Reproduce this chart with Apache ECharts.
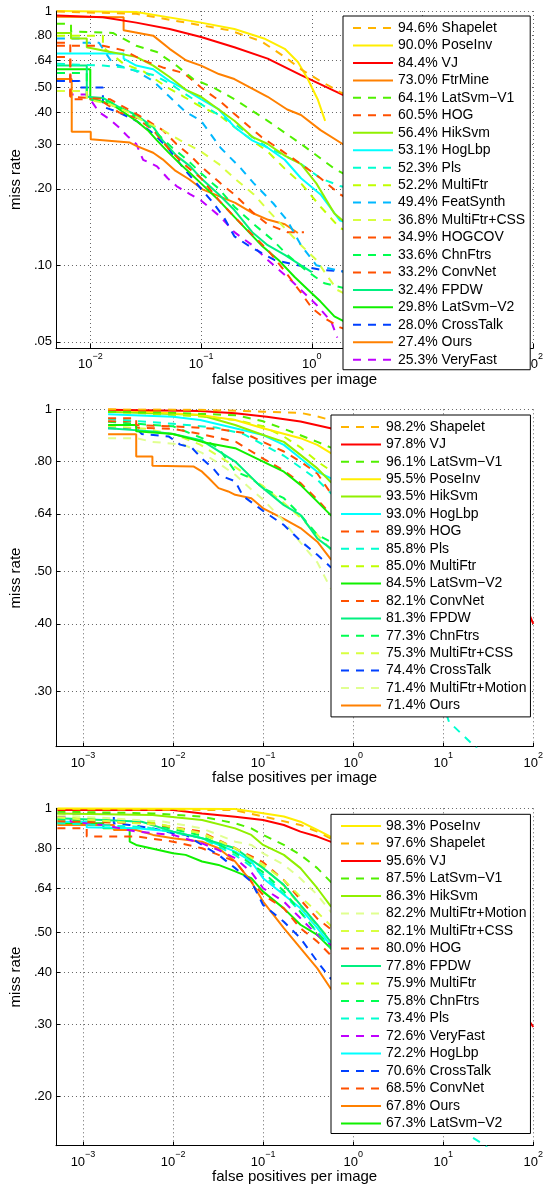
<!DOCTYPE html>
<html><head><meta charset="utf-8">
<script src="https://cdn.jsdelivr.net/npm/echarts@6/dist/echarts.min.js"></script>
<style>html,body{margin:0;padding:0;background:#fff}#c{width:546px;height:1189px}</style>
</head><body><div id="c"></div><script>
// ---------- Panel 1 ----------
const p1Methods = ['Shapelet','PoseInv','VJ','FtrMine','LatSvm−V1','HOG','HikSvm','HogLbp','Pls','MultiFtr','FeatSynth','MultiFtr+CSS','HOGCOV','ChnFtrs','ConvNet','FPDW','LatSvm−V2','CrossTalk','Ours','VeryFast'];
const p1Rates = ['94.6','90.0','84.4','73.0','64.1','60.5','56.4','53.1','52.3','52.2','49.4','36.8','34.9','33.6','33.2','32.4','29.8','28.0','27.4','25.3'];
const p1YTicks = [0.05,0.10,0.20,0.30,0.40,0.50,0.64,0.80,1];
const p1YLabels = ['.05','.10','.20','.30','.40','.50','.64','.80','1'];
const p1XExp = [-2,-1,0,1,2];

const p1_Shapelet = [[0.005,0.995],[0.026,0.975],[0.073,0.90],[0.18,0.84],[0.35,0.76],[0.57,0.66],[0.8,0.59],[1.2,0.53],[1.8,0.48],[2.3,0.46]];
const p1_PoseInv = [[0.005,1.0],[0.026,0.99],[0.1,0.90],[0.2,0.85],[0.37,0.78],[0.57,0.71],[0.75,0.63],[0.92,0.54],[1.13,0.45],[1.32,0.37]];
const p1_VJ = [[0.005,0.96],[0.013,0.945],[0.026,0.90],[0.052,0.85],[0.1,0.79],[0.2,0.72],[0.4,0.65],[0.8,0.56],[1.6,0.485],[2.3,0.45]];
const p1_FtrMine = [[0.005,0.95],[0.02,0.944],[0.02,0.84],[0.037,0.80],[0.052,0.71],[0.073,0.64],[0.1,0.61],[0.145,0.565],[0.2,0.54],[0.4,0.46],[0.6,0.41],[0.8,0.39],[1.2,0.34],[1.9,0.30],[2.3,0.29]];
const p1_LatSvmV1 = [[0.005,0.89],[0.0067,0.89],[0.0067,0.83],[0.016,0.82],[0.026,0.73],[0.04,0.69],[0.06,0.61],[0.085,0.54],[0.13,0.50],[0.2,0.45],[0.4,0.37],[0.8,0.30],[1.6,0.24],[2.3,0.22]];
const p1_HOG = [[0.005,0.73],[0.013,0.73],[0.02,0.70],[0.03,0.64],[0.045,0.60],[0.07,0.57],[0.1,0.50],[0.15,0.44],[0.22,0.38],[0.35,0.32],[0.55,0.28],[0.8,0.25],[1.2,0.22],[1.8,0.19],[2.3,0.18]];
const p1_HikSvm = [[0.005,0.82],[0.0067,0.82],[0.0067,0.78],[0.0093,0.78],[0.0093,0.72],[0.013,0.70],[0.026,0.66],[0.037,0.61],[0.052,0.55],[0.073,0.49],[0.1,0.46],[0.2,0.37],[0.29,0.32],[0.4,0.30],[0.57,0.27],[0.8,0.25],[1.1,0.21],[1.6,0.16],[1.9,0.15],[2.3,0.14]];
const p1_HogLbp = [[0.005,0.68],[0.02,0.68],[0.02,0.65],[0.026,0.61],[0.037,0.59],[0.052,0.53],[0.073,0.49],[0.1,0.45],[0.145,0.41],[0.2,0.35],[0.29,0.31],[0.4,0.29],[0.57,0.26],[0.8,0.22],[1.2,0.19],[1.8,0.15],[2.3,0.145]];
const p1_Pls = [[0.005,0.62],[0.013,0.61],[0.02,0.60],[0.037,0.56],[0.052,0.52],[0.073,0.47],[0.1,0.43],[0.145,0.39],[0.2,0.36],[0.29,0.32],[0.4,0.29],[0.57,0.27],[0.8,0.25],[1.2,0.22],[1.8,0.205],[2.3,0.2]];
const p1_MultiFtr = [[0.005,0.80],[0.013,0.80],[0.013,0.72],[0.02,0.62],[0.03,0.58],[0.05,0.50],[0.07,0.46],[0.1,0.42],[0.145,0.39],[0.2,0.35],[0.29,0.31],[0.4,0.28],[0.57,0.24],[0.8,0.21],[1.2,0.17],[1.8,0.14],[2.3,0.135]];
const p1_FeatSynth = [[0.005,0.78],[0.008,0.78],[0.008,0.75],[0.012,0.75],[0.016,0.62],[0.026,0.58],[0.037,0.53],[0.052,0.46],[0.073,0.40],[0.1,0.37],[0.15,0.29],[0.23,0.24],[0.3,0.21],[0.45,0.175],[0.6,0.15],[0.8,0.12],[1.1,0.10],[1.8,0.095],[2.3,0.093]];
const p1_MultiFtrCSS = [[0.005,0.485],[0.0093,0.485],[0.0093,0.45],[0.015,0.43],[0.022,0.40],[0.03,0.37],[0.045,0.34],[0.065,0.31],[0.1,0.28],[0.145,0.25],[0.2,0.22],[0.3,0.19],[0.4,0.165],[0.57,0.14],[0.8,0.12],[1.1,0.105],[1.4,0.09],[1.7,0.08],[2.3,0.075]];
const p1_HOGCOV = [[0.005,0.75],[0.0066,0.75],[0.0066,0.46],[0.015,0.45],[0.02,0.42],[0.03,0.38],[0.045,0.34],[0.06,0.30],[0.08,0.27],[0.1,0.245],[0.15,0.21],[0.2,0.19],[0.3,0.16],[0.4,0.145],[0.6,0.135],[0.85,0.135]];
const p1_ChnFtrs = [[0.005,0.57],[0.0093,0.57],[0.0093,0.45],[0.015,0.44],[0.02,0.41],[0.03,0.37],[0.04,0.33],[0.055,0.29],[0.075,0.26],[0.1,0.23],[0.145,0.20],[0.2,0.17],[0.3,0.145],[0.45,0.125],[0.6,0.11],[0.9,0.095],[1.3,0.085],[2.3,0.08]];
const p1_ConvNet = [[0.005,0.66],[0.0066,0.66],[0.0066,0.45],[0.012,0.45],[0.018,0.40],[0.026,0.38],[0.037,0.34],[0.05,0.29],[0.07,0.25],[0.1,0.22],[0.145,0.18],[0.2,0.155],[0.3,0.13],[0.4,0.115],[0.57,0.095],[0.8,0.078],[1.0,0.068],[1.3,0.062],[1.8,0.057],[2.3,0.055]];
const p1_FPDW = [[0.005,0.61],[0.0093,0.61],[0.0093,0.46],[0.013,0.455],[0.018,0.42],[0.026,0.39],[0.037,0.35],[0.045,0.31],[0.06,0.27],[0.08,0.245],[0.1,0.22],[0.145,0.19],[0.2,0.165],[0.29,0.135],[0.4,0.12],[0.57,0.11],[0.8,0.10],[1.0,0.094]];
const p1_LatSvmV2 = [[0.005,0.59],[0.01,0.59],[0.01,0.45],[0.013,0.44],[0.017,0.42],[0.02,0.40],[0.026,0.37],[0.033,0.34],[0.04,0.31],[0.05,0.28],[0.065,0.25],[0.08,0.23],[0.1,0.21],[0.145,0.18],[0.2,0.155],[0.25,0.14],[0.35,0.12],[0.5,0.105],[0.7,0.09],[0.93,0.08],[1.2,0.072],[1.6,0.063],[2.3,0.058]];
const p1_CrossTalk = [[0.005,0.53],[0.008,0.53],[0.008,0.50],[0.013,0.50],[0.013,0.42],[0.018,0.40],[0.026,0.37],[0.037,0.33],[0.05,0.29],[0.07,0.24],[0.1,0.20],[0.13,0.175],[0.16,0.155],[0.2,0.13],[0.28,0.118],[0.46,0.105],[0.75,0.10],[1.2,0.096],[2.3,0.094]];
const p1_Ours = [[0.005,0.54],[0.0068,0.54],[0.0068,0.335],[0.0101,0.335],[0.0101,0.313],[0.0228,0.304],[0.026,0.295],[0.037,0.277],[0.045,0.261],[0.059,0.235],[0.078,0.218],[0.103,0.199],[0.145,0.187],[0.204,0.176],[0.287,0.161],[0.405,0.151],[0.571,0.145],[0.75,0.134]];
const p1_VeryFast = [[0.005,0.57],[0.0066,0.57],[0.0066,0.47],[0.0093,0.47],[0.012,0.40],[0.015,0.375],[0.018,0.35],[0.022,0.32],[0.026,0.30],[0.03,0.26],[0.04,0.245],[0.05,0.22],[0.06,0.205],[0.08,0.19],[0.1,0.18],[0.15,0.155],[0.2,0.135],[0.29,0.12],[0.4,0.105],[0.6,0.09],[0.8,0.08],[1.1,0.07],[1.5,0.06],[1.7,0.052]];
const p1Curves = [p1_Shapelet,p1_PoseInv,p1_VJ,p1_FtrMine,p1_LatSvmV1,p1_HOG,p1_HikSvm,p1_HogLbp,p1_Pls,p1_MultiFtr,p1_FeatSynth,p1_MultiFtrCSS,p1_HOGCOV,p1_ChnFtrs,p1_ConvNet,p1_FPDW,p1_LatSvmV2,p1_CrossTalk,p1_Ours,p1_VeryFast];

// ---------- Panel 2 ----------
const p2Methods = ['Shapelet','VJ','LatSvm−V1','PoseInv','HikSvm','HogLbp','HOG','Pls','MultiFtr','LatSvm−V2','ConvNet','FPDW','ChnFtrs','MultiFtr+CSS','CrossTalk','MultiFtr+Motion','Ours'];
const p2Rates = ['98.2','97.8','96.1','95.5','93.5','93.0','89.9','85.8','85.0','84.5','82.1','81.3','77.3','75.3','74.4','71.4','71.4'];
const p2YTicks = [0.30,0.40,0.50,0.64,0.80,1];
const p2YLabels = ['.30','.40','.50','.64','.80','1'];
const p2XExp = [-3,-2,-1,0,1,2];

const p2_Shapelet = [[0.0019,1.0],[0.02,0.998],[0.1,0.99],[0.26,0.985],[0.4,0.97],[0.56,0.955],[0.8,0.94]];
const p2_VJ = [[0.0019,0.998],[0.02,0.993],[0.049,0.983],[0.11,0.969],[0.26,0.949],[0.56,0.922],[1,0.89],[10,0.70],[50,0.50],[86,0.425],[100,0.40]];
const p2_LatSvmV1 = [[0.0019,0.99],[0.01,0.985],[0.05,0.975],[0.1,0.95],[0.17,0.92],[0.26,0.895],[0.4,0.87],[0.56,0.85],[0.8,0.83]];
const p2_PoseInv = [[0.0019,1.0],[0.02,0.976],[0.049,0.955],[0.1,0.922],[0.26,0.884],[0.4,0.859],[0.56,0.83],[0.8,0.80]];
const p2_HikSvm = [[0.0019,0.99],[0.02,0.976],[0.049,0.935],[0.1,0.896],[0.17,0.87],[0.26,0.823],[0.4,0.777],[0.56,0.734],[0.8,0.70]];
const p2_HogLbp = [[0.0019,0.979],[0.01,0.969],[0.02,0.955],[0.049,0.922],[0.1,0.896],[0.17,0.859],[0.26,0.811],[0.4,0.766],[0.56,0.745],[0.8,0.71]];
const p2_HOG = [[0.0019,0.962],[0.0039,0.962],[0.0039,0.935],[0.01,0.93],[0.03,0.92],[0.06,0.905],[0.1,0.87],[0.17,0.835],[0.26,0.80],[0.4,0.76],[0.56,0.70],[0.8,0.67]];
const p2_Pls = [[0.0019,0.96],[0.01,0.94],[0.03,0.925],[0.06,0.90],[0.1,0.86],[0.17,0.82],[0.26,0.78],[0.4,0.74],[0.56,0.70],[1,0.64],[5,0.40],[11.6,0.263],[23,0.236],[30,0.225]];
const p2_MultiFtr = [[0.0019,0.99],[0.02,0.97],[0.05,0.955],[0.1,0.93],[0.17,0.89],[0.26,0.85],[0.4,0.80],[0.56,0.77],[0.8,0.74]];
const p2_LatSvmV2 = [[0.0019,0.935],[0.0039,0.935],[0.0039,0.91],[0.01,0.90],[0.021,0.87],[0.049,0.847],[0.1,0.80],[0.17,0.766],[0.26,0.724],[0.4,0.674],[0.56,0.637],[0.8,0.61]];
const p2_ConvNet = [[0.0019,0.95],[0.0039,0.95],[0.0039,0.925],[0.01,0.92],[0.02,0.90],[0.05,0.87],[0.1,0.81],[0.17,0.77],[0.26,0.73],[0.4,0.68],[0.56,0.64],[0.8,0.62]];
const p2_FPDW = [[0.0019,0.922],[0.0059,0.91],[0.01,0.90],[0.021,0.875],[0.049,0.80],[0.09,0.724],[0.17,0.664],[0.26,0.637],[0.4,0.576],[0.56,0.552],[0.8,0.53]];
const p2_ChnFtrs = [[0.0019,0.948],[0.01,0.93],[0.021,0.884],[0.032,0.847],[0.049,0.767],[0.074,0.745],[0.1,0.714],[0.17,0.684],[0.26,0.637],[0.4,0.585],[0.56,0.568],[0.8,0.54]];
const p2_MultiFtrCSS = [[0.0019,0.93],[0.005,0.92],[0.01,0.90],[0.02,0.86],[0.04,0.80],[0.07,0.75],[0.1,0.72],[0.17,0.67],[0.26,0.63],[0.4,0.585],[0.56,0.55],[0.8,0.52]];
const p2_CrossTalk = [[0.0019,0.922],[0.0039,0.922],[0.0045,0.90],[0.009,0.89],[0.012,0.86],[0.016,0.85],[0.021,0.81],[0.028,0.776],[0.032,0.756],[0.049,0.735],[0.06,0.69],[0.1,0.648],[0.17,0.61],[0.26,0.57],[0.4,0.537],[0.56,0.51],[0.8,0.49]];
const p2_MultiFtrMotion = [[0.0019,0.884],[0.0039,0.884],[0.0059,0.87],[0.013,0.86],[0.021,0.83],[0.03,0.80],[0.049,0.756],[0.074,0.71],[0.1,0.68],[0.17,0.62],[0.26,0.566],[0.4,0.52],[0.56,0.466],[0.8,0.44]];
const p2_Ours = [[0.0019,0.899],[0.0039,0.899],[0.0039,0.817],[0.0059,0.817],[0.0059,0.786],[0.017,0.783],[0.021,0.766],[0.025,0.745],[0.032,0.714],[0.041,0.704],[0.049,0.694],[0.074,0.684],[0.1,0.655],[0.17,0.626],[0.26,0.602],[0.4,0.568],[0.56,0.528],[0.8,0.50]];
const p2Curves = [p2_Shapelet,p2_VJ,p2_LatSvmV1,p2_PoseInv,p2_HikSvm,p2_HogLbp,p2_HOG,p2_Pls,p2_MultiFtr,p2_LatSvmV2,p2_ConvNet,p2_FPDW,p2_ChnFtrs,p2_MultiFtrCSS,p2_CrossTalk,p2_MultiFtrMotion,p2_Ours];

// ---------- Panel 3 ----------
const p3Methods = ['PoseInv','Shapelet','VJ','LatSvm−V1','HikSvm','MultiFtr+Motion','MultiFtr+CSS','HOG','FPDW','MultiFtr','ChnFtrs','Pls','VeryFast','HogLbp','CrossTalk','ConvNet','Ours','LatSvm−V2'];
const p3Rates = ['98.3','97.6','95.6','87.5','86.3','82.2','82.1','80.0','77.8','75.9','75.8','73.4','72.6','72.2','70.6','68.5','67.8','67.3'];
const p3YTicks = [0.20,0.30,0.40,0.50,0.64,0.80,1];
const p3YLabels = ['.20','.30','.40','.50','.64','.80','1'];
const p3XExp = [-3,-2,-1,0,1,2];

const p3_PoseInv = [[0.00052,1.0],[0.0486,0.996],[0.1,0.973],[0.17,0.955],[0.26,0.928],[0.4,0.886],[0.56,0.854],[0.8,0.82]];
const p3_Shapelet = [[0.00052,0.996],[0.0486,0.99],[0.1,0.955],[0.26,0.911],[0.4,0.878],[0.56,0.846],[0.8,0.81]];
const p3_VJ = [[0.00052,0.99],[0.01,0.99],[0.021,0.972],[0.049,0.954],[0.1,0.937],[0.17,0.911],[0.26,0.878],[0.4,0.854],[0.56,0.83],[1,0.78],[10,0.50],[86,0.31],[100,0.295]];
const p3_LatSvmV1 = [[0.00052,0.982],[0.0059,0.972],[0.021,0.954],[0.049,0.92],[0.074,0.894],[0.1,0.862],[0.17,0.815],[0.26,0.771],[0.4,0.716],[0.56,0.664],[0.8,0.63]];
const p3_HikSvm = [[0.00052,0.972],[0.0059,0.963],[0.021,0.937],[0.049,0.894],[0.074,0.862],[0.1,0.815],[0.17,0.771],[0.26,0.716],[0.4,0.64],[0.56,0.58],[0.8,0.55]];
const p3_MultiFtrMotion = [[0.00052,0.963],[0.008,0.928],[0.021,0.894],[0.049,0.83],[0.074,0.815],[0.1,0.778],[0.17,0.73],[0.26,0.676],[0.4,0.617],[0.56,0.562],[0.8,0.53]];
const p3_MultiFtrCSS = [[0.00052,0.95],[0.008,0.91],[0.021,0.87],[0.049,0.80],[0.1,0.73],[0.17,0.67],[0.26,0.61],[0.4,0.56],[0.56,0.52],[0.8,0.49]];
const p3_HOG = [[0.00052,0.93],[0.005,0.92],[0.02,0.88],[0.049,0.80],[0.1,0.74],[0.17,0.67],[0.26,0.60],[0.4,0.54],[0.56,0.51],[0.8,0.48]];
const p3_FPDW = [[0.00052,0.946],[0.00168,0.937],[0.0045,0.928],[0.01,0.878],[0.021,0.846],[0.049,0.80],[0.1,0.716],[0.17,0.652],[0.26,0.583],[0.4,0.522],[0.56,0.475],[0.8,0.45]];
const p3_MultiFtr = [[0.00052,0.95],[0.005,0.93],[0.02,0.87],[0.049,0.80],[0.1,0.72],[0.17,0.65],[0.26,0.58],[0.4,0.52],[0.56,0.48],[0.8,0.45]];
const p3_ChnFtrs = [[0.00052,0.94],[0.005,0.92],[0.02,0.86],[0.049,0.78],[0.1,0.70],[0.17,0.63],[0.26,0.56],[0.4,0.50],[0.56,0.46],[0.8,0.43]];
const p3_Pls = [[0.00052,0.92],[0.005,0.90],[0.02,0.85],[0.049,0.77],[0.1,0.69],[0.17,0.62],[0.26,0.56],[0.4,0.50],[0.56,0.46],[1,0.40],[5,0.25],[19.3,0.161],[29.6,0.152],[35,0.145]];
const p3_VeryFast = [[0.00052,0.954],[0.00073,0.954],[0.00073,0.928],[0.00168,0.911],[0.0039,0.878],[0.01,0.862],[0.021,0.822],[0.032,0.792],[0.049,0.757],[0.074,0.70],[0.1,0.64],[0.17,0.594],[0.26,0.541],[0.4,0.493],[0.56,0.467],[0.8,0.44]];
const p3_HogLbp = [[0.00052,0.928],[0.0011,0.928],[0.0011,0.90],[0.0039,0.894],[0.01,0.878],[0.021,0.846],[0.049,0.785],[0.074,0.743],[0.1,0.677],[0.17,0.617],[0.26,0.572],[0.4,0.512],[0.56,0.466],[0.8,0.44]];
const p3_CrossTalk = [[0.00052,0.972],[0.0022,0.972],[0.0022,0.92],[0.0033,0.911],[0.006,0.894],[0.01,0.87],[0.0138,0.862],[0.021,0.815],[0.032,0.771],[0.049,0.716],[0.074,0.664],[0.1,0.583],[0.17,0.531],[0.26,0.484],[0.4,0.425],[0.56,0.387],[0.8,0.36]];
const p3_ConvNet = [[0.00052,0.894],[0.0011,0.894],[0.0011,0.854],[0.004,0.854],[0.01,0.83],[0.021,0.80],[0.049,0.743],[0.074,0.664],[0.1,0.617],[0.17,0.572],[0.26,0.512],[0.4,0.475],[0.56,0.441],[0.8,0.42]];
const p3_Ours = [[0.00052,0.911],[0.0022,0.911],[0.0022,0.886],[0.0039,0.886],[0.006,0.862],[0.01,0.846],[0.021,0.83],[0.032,0.80],[0.049,0.743],[0.074,0.664],[0.1,0.594],[0.17,0.512],[0.26,0.458],[0.4,0.409],[0.56,0.366],[0.8,0.34]];
const p3_LatSvmV2 = [[0.00052,0.92],[0.00168,0.92],[0.00168,0.894],[0.0033,0.894],[0.0033,0.83],[0.0039,0.815],[0.01,0.778],[0.0138,0.771],[0.021,0.743],[0.032,0.729],[0.049,0.703],[0.074,0.677],[0.1,0.628],[0.17,0.572],[0.26,0.522],[0.4,0.493],[0.56,0.458],[0.8,0.43]];
const p3Curves = [p3_PoseInv,p3_Shapelet,p3_VJ,p3_LatSvmV1,p3_HikSvm,p3_MultiFtrMotion,p3_MultiFtrCSS,p3_HOG,p3_FPDW,p3_MultiFtr,p3_ChnFtrs,p3_Pls,p3_VeryFast,p3_HogLbp,p3_CrossTalk,p3_ConvNet,p3_Ours,p3_LatSvmV2];

// ---------- Styles (colour, dashed) per method ----------
const STYLE = {
  'Shapelet':['#FFB400',true], 'PoseInv':['#FFEE00',false], 'VJ':['#FF0000',false], 'FtrMine':['#FF8000',false],
  'LatSvm−V1':['#50F000',true], 'HOG':['#FF5000',true], 'HikSvm':['#90F000',false], 'HogLbp':['#00FFFF',false],
  'Pls':['#00FFD0',true], 'MultiFtr':['#C0FF00',true], 'FeatSynth':['#00B8FF',true], 'MultiFtr+CSS':['#D8FF40',true],
  'HOGCOV':['#FF5000',true], 'ChnFtrs':['#00FF50',true], 'ConvNet':['#FF5000',true], 'FPDW':['#00F080',false],
  'LatSvm−V2':['#10F000',false], 'CrossTalk':['#0040FF',true], 'Ours':['#FF8000',false], 'VeryFast':['#C000FF',true],
  'MultiFtr+Motion':['#E0FF90',true]
};
const FONT = 'Liberation Sans';

const panels = [
  {methods:p1Methods, rates:p1Rates, curves:p1Curves, yTicks:p1YTicks, yLabels:p1YLabels, xExp:p1XExp,
   grid:{left:52, top:11, width:483, height:337}, xMin:Math.log10(0.0049), xMax:2, yMin:Math.log10(0.0473),
   legend:{left:343, top:16, gap:3.46, padding:[5,5,3,9]}},
  {methods:p2Methods, rates:p2Rates, curves:p2Curves, yTicks:p2YTicks, yLabels:p2YLabels, xExp:p2XExp,
   grid:{left:52, top:409.3, width:483, height:337.4}, xMin:-3.3, xMax:2, yMin:Math.log10(0.2366),
   legend:{left:331, top:415, gap:3.4, padding:[5,4,4.5,9]}},
  {methods:p3Methods, rates:p3Rates, curves:p3Curves, yTicks:p3YTicks, yLabels:p3YLabels, xExp:p3XExp,
   grid:{left:52, top:808.3, width:483, height:337.4}, xMin:-3.3, xMax:2, yMin:Math.log10(0.152),
   legend:{left:331, top:814.3, gap:3.5, padding:[4.7,4,3,9]}}
];

const grids=[], xAxes=[], yAxes=[], series=[], legends=[];
const gridLine = {show:true, lineStyle:{color:'#666', type:[1,3], width:1}};
panels.forEach((p, i) => {
  grids.push(Object.assign({containLabel:false}, p.grid));
  const xVals = p.xExp.filter(e => e >= p.xMin - 1e-9 && e <= p.xMax + 1e-9);
  xAxes.push({
    type:'value', gridIndex:i, min:p.xMin, max:p.xMax,
    name:'false positives per image', nameLocation:'middle', nameGap:24,
    nameTextStyle:{fontFamily:FONT, fontSize:15, color:'#000', verticalAlign:'top'},
    axisLine:{onZero:false, lineStyle:{color:'#000', width:1}},
    axisTick:{inside:true, length:4, customValues:xVals, lineStyle:{color:'#000'}},
    axisLabel:{customValues:xVals, margin:4, color:'#000', fontFamily:FONT,
      formatter: v => { const e = Math.round(v); return '{b|10}{s|' + (e < 0 ? '\u2212' + (-e) : e) + '}'; },
      rich:{ b:{fontSize:13, fontFamily:FONT, color:'#000', verticalAlign:'bottom', lineHeight:19},
             s:{fontSize:9, fontFamily:FONT, color:'#000', verticalAlign:'top', lineHeight:19} }},
    splitLine:gridLine
  });
  const yVals = p.yTicks.map(t => Math.log10(t));
  yAxes.push({
    type:'value', gridIndex:i, min:p.yMin, max:0,
    name:'miss rate', nameLocation:'middle', nameGap:30, nameRotate:90,
    nameTextStyle:{fontFamily:FONT, fontSize:15, color:'#000'},
    axisLine:{onZero:false, lineStyle:{color:'#000', width:1}},
    axisTick:{inside:true, length:4, customValues:yVals, lineStyle:{color:'#000'}},
    axisLabel:{customValues:yVals, margin:4, color:'#000', fontFamily:FONT, fontSize:13,
      formatter: v => { const m = Math.pow(10, v); let b = 0;
        p.yTicks.forEach((t, k) => { if (Math.abs(t - m) < Math.abs(p.yTicks[b] - m)) b = k; });
        return p.yLabels[b]; }},
    splitLine:gridLine
  });
  const names = p.methods.map((m, k) => p.rates[k] + '% ' + m);
  p.curves.forEach((c, k) => {
    const st = STYLE[p.methods[k]];
    series.push({
      type:'line', name:names[k], xAxisIndex:i, yAxisIndex:i, symbol:'none', clip:true,
      data:c.map(pt => [Math.log10(pt[0]), Math.log10(pt[1])]),
      lineStyle:{color:st[0], width:2, type: st[1] ? [8,7] : 'solid'},
      itemStyle:{color:st[0]}, z: 2 + (p.curves.length - k) * 0.01,
      animation:false, silent:true
    });
  });
  legends.push({
    data:names, orient:'vertical', left:p.legend.left, top:p.legend.top,
    itemWidth:40, itemHeight:14, itemGap:p.legend.gap, padding:p.legend.padding,
    backgroundColor:'#fff', borderColor:'#000', borderWidth:1, z:20,
    selectedMode:false,
    itemStyle:{opacity:0, borderWidth:0},
    lineStyle:{width:2},
    textStyle:{fontFamily:FONT, fontSize:14, color:'#000', lineHeight:14}
  });
});

const chart = echarts.init(document.getElementById('c'));
chart.setOption({
  animation:false, backgroundColor:'#fff',
  grid:grids, xAxis:xAxes, yAxis:yAxes, series:series, legend:legends
});
</script></body></html>
